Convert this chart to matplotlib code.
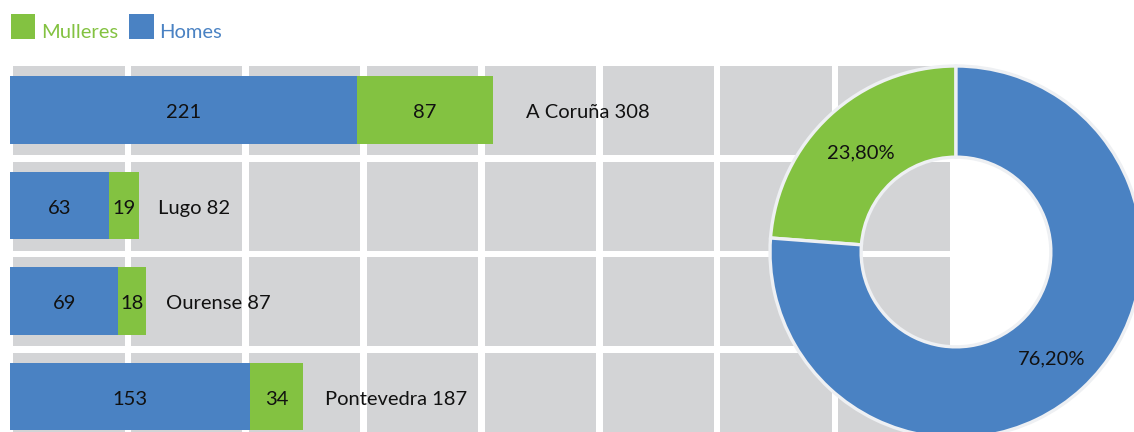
import matplotlib.pyplot as plt
from matplotlib.patches import Rectangle
from matplotlib.transforms import ScaledTranslation

# datos
provincias = ["A Coruña", "Lugo", "Ourense", "Pontevedra"]
homes = [221, 63, 69, 153]
mulleres = [87, 19, 18, 34]
pct_mulleres = 23.80
pct_homes = 76.20

AZUL = "#4a82c3"
VERDE = "#83c241"
GRIS = "#d3d4d6"
BORDE = "#eef0f3"

plt.rcParams["font.family"] = ["Lato", "DejaVu Sans"]
FS = 14.5

W, H = 1134, 432
fig = plt.figure(figsize=(W / 100, H / 100), dpi=100)


def px_axes(x0, y0, w, h, **kw):
    """ejes colocados en pixeles (origen arriba a la izquierda)"""
    return fig.add_axes([x0 / W, 1 - (y0 + h) / H, w / W, h / H], **kw)


# fondo de celdas grises
bg = px_axes(0, 0, W, H)
bg.set_xlim(0, W)
bg.set_ylim(H, 0)
bg.axis("off")
for col in range(8):
    for fila in range(4):
        bg.add_patch(Rectangle((13 + 117.9 * col, 66 + 95.5 * fila), 111.5, 89,
                               facecolor=GRIS, edgecolor="none"))

# barras
escala = 1.568  # px por unidad
ax = px_axes(0, 0, W, H)
ax.set_facecolor("none")
ax.set_xlim(-10 / escala, (W - 10) / escala)
ax.set_ylim((H - 110) / 95.5, -110 / 95.5)
ax.axis("off")

pos = list(range(len(provincias)))
b_h = ax.barh(pos, homes, height=0.712, color=AZUL, label="Homes")
b_m = ax.barh(pos, mulleres, left=homes, height=0.712, color=VERDE, label="Mulleres")
for cont in (b_h, b_m):
    for rect in cont:
        ax.annotate(f"{rect.get_width():g}",
                    (rect.get_x() + rect.get_width() / 2, rect.get_y() + rect.get_height() / 2),
                    xytext=(0, -2), textcoords="offset points",
                    ha="center", va="center", fontsize=FS, color="#111111")
desprazamento = [24, 14, 14, 16]
for i, nome in enumerate(provincias):
    total = homes[i] + mulleres[i]
    ax.annotate(f"{nome} {total}", (total, i), xytext=(desprazamento[i], -2),
                textcoords="offset points",
                va="center", ha="left", fontsize=FS, color="#111111")

leg = ax.legend(handles=[b_m, b_h], labels=["Mulleres", "Homes"], ncol=2,
                loc="upper left", bbox_to_anchor=(11 / W, 1 - 14 / H),
                frameon=False, fontsize=FS, handlelength=1.2, handleheight=1.5,
                handletextpad=0.3, columnspacing=0.55, borderpad=0, borderaxespad=0,
                labelcolor=[VERDE, AZUL])
# texto da lenda un pouco mais abaixo, aliñado coa base do cadrado
for t in leg.get_texts():
    t.set_transform(t.get_transform() + ScaledTranslation(0, -5 / 100, fig.dpi_scale_trans))

# rosca
r = 186
cx, cy = 956, 252
pa = px_axes(cx - 200, cy - 200, 400, 400)
pa.set_facecolor("none")
_, _, pcts = pa.pie([pct_mulleres, pct_homes], colors=[VERDE, AZUL], startangle=90,
                    counterclock=True, radius=1,
                    wedgeprops=dict(width=0.49, edgecolor=BORDE, linewidth=2.4),
                    autopct=lambda p: f"{p:.2f}%".replace(".", ","), pctdistance=0.755,
                    textprops=dict(fontsize=FS, color="#111111"))
for t in pcts:
    x, y = t.get_position()
    t.set_position((x, y - 0.02))
pa.set_xlim(-200 / r, 200 / r)
pa.set_ylim(-200 / r, 200 / r)
pa.set_aspect("equal")
pa.axis("off")

fig.savefig("out.png", dpi=100)
